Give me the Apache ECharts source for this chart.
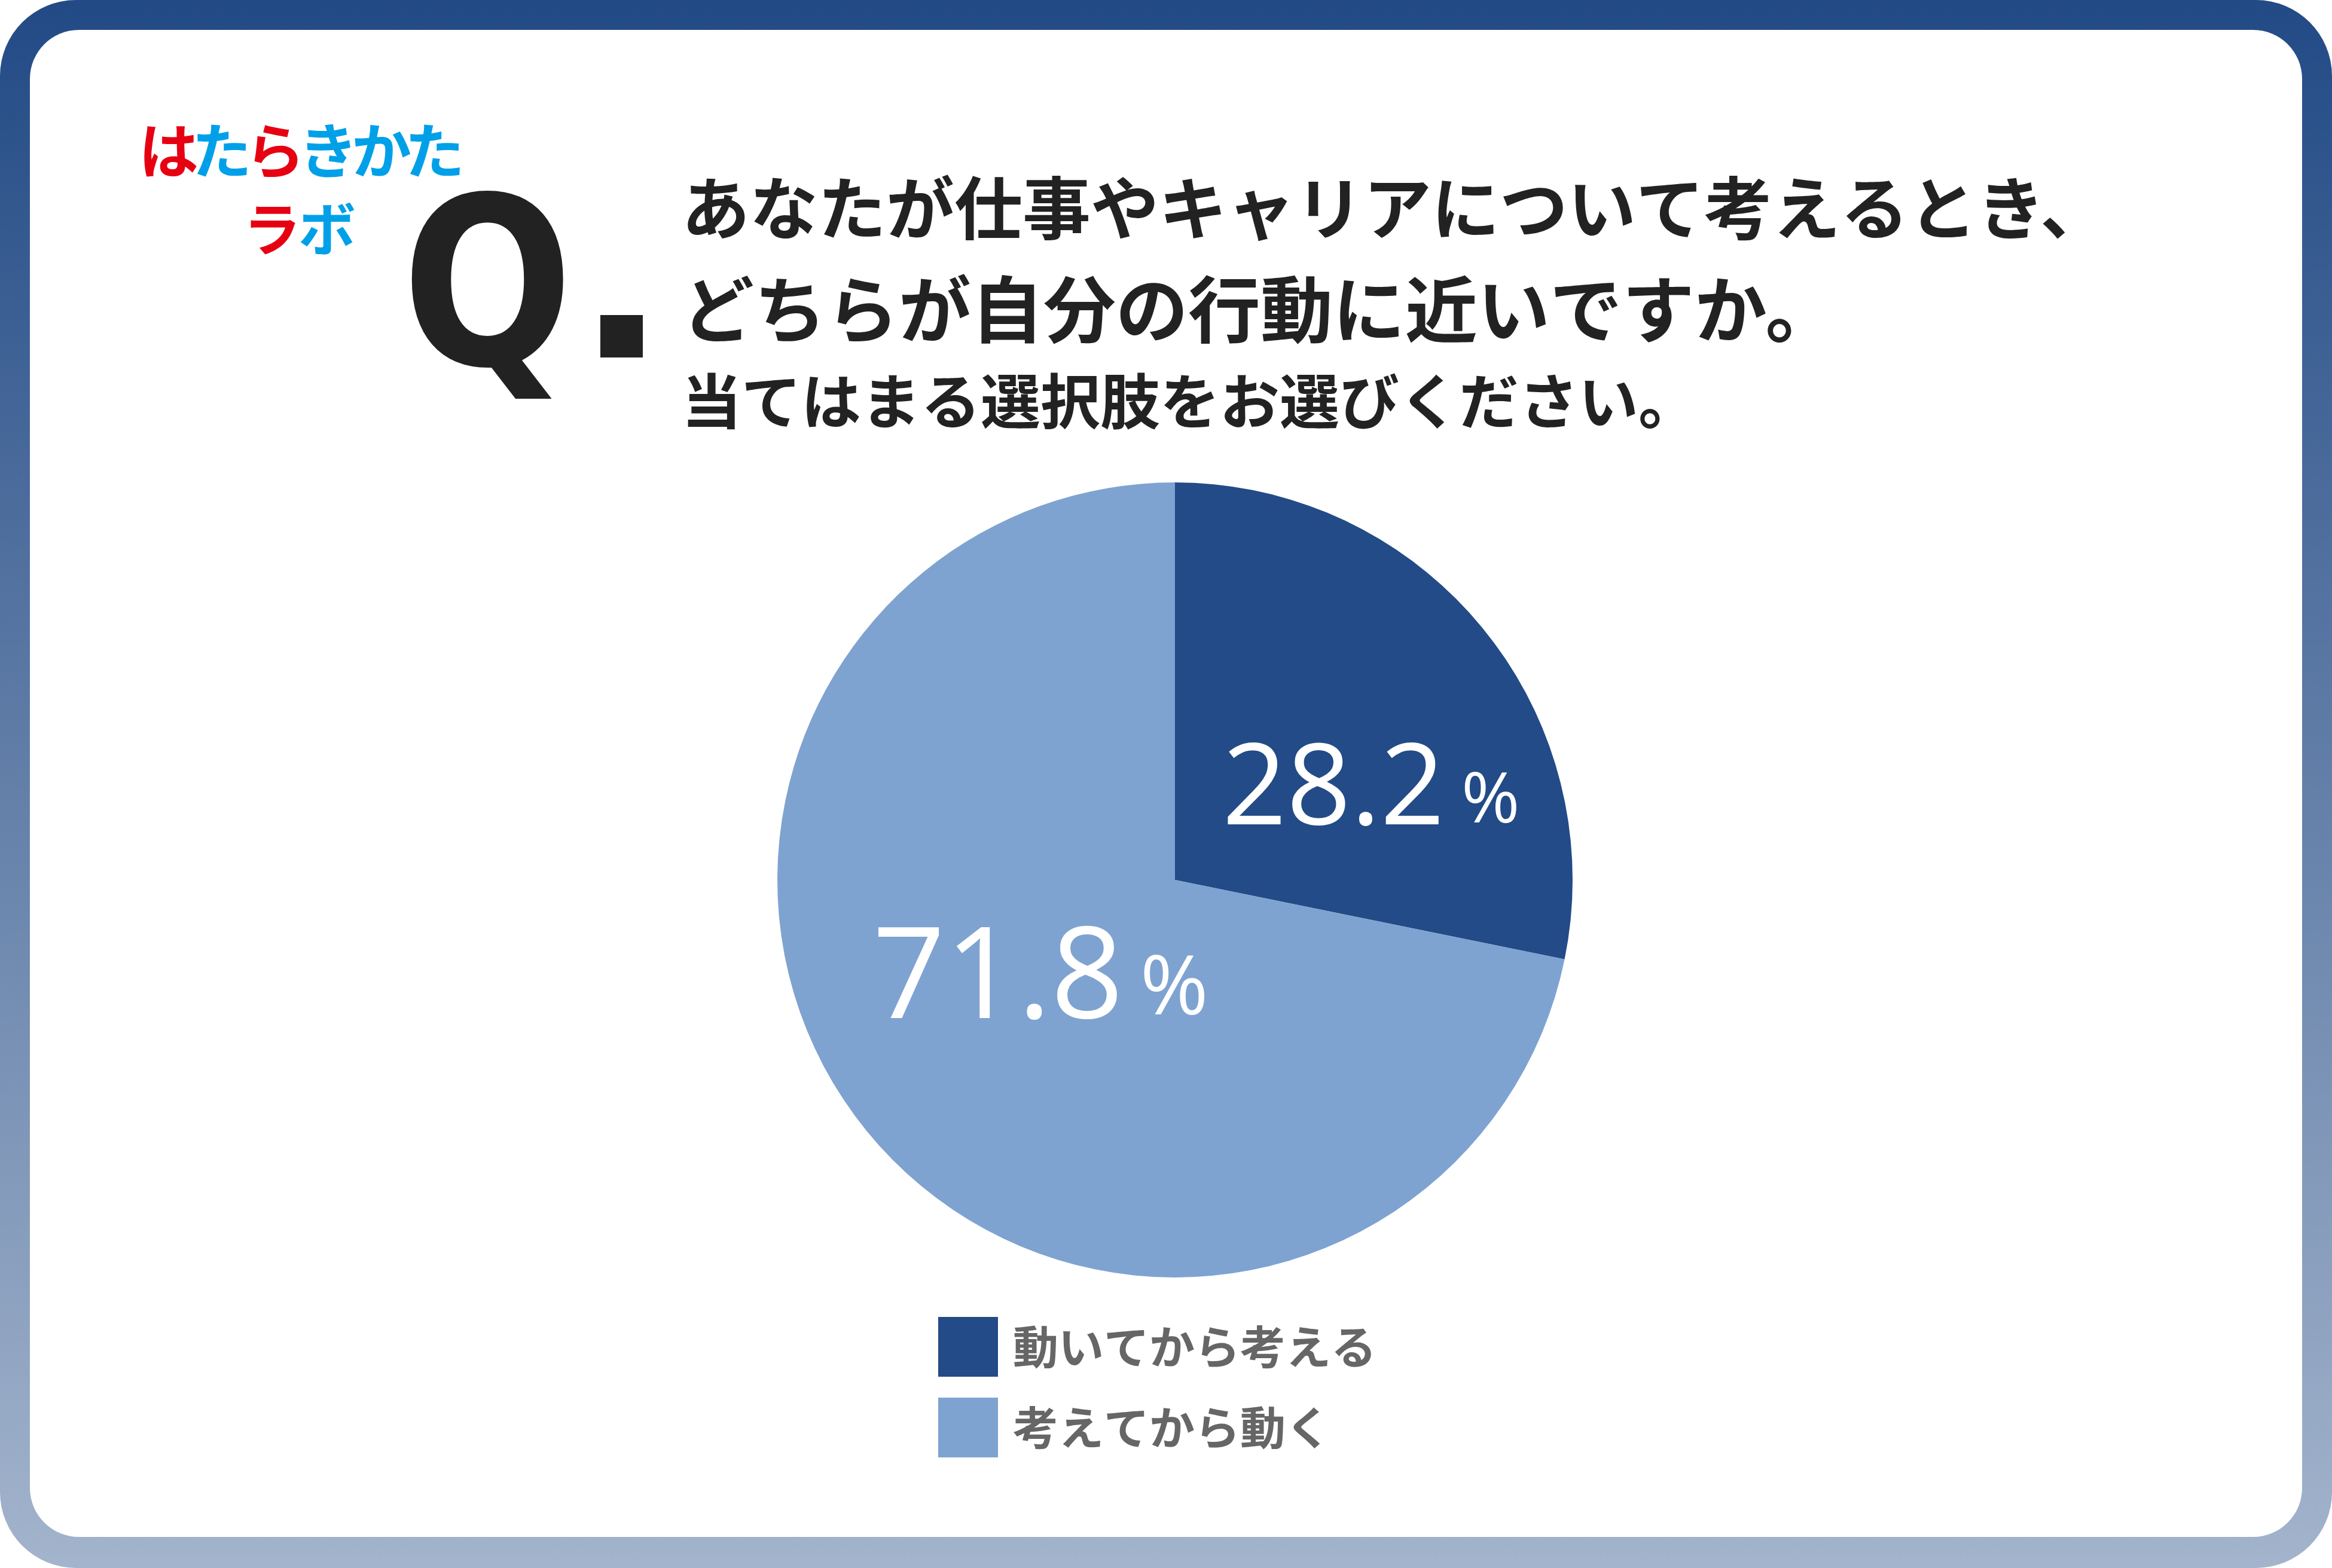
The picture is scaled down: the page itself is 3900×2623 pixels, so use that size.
<!DOCTYPE html>
<html><head><meta charset="utf-8">
<script src="https://cdn.jsdelivr.net/npm/echarts@6/dist/echarts.min.js"></script>
<style>html,body{margin:0;padding:0;background:#fff}#c{width:3900px;height:2623px}</style>
</head><body><div id="c"></div>
<script>
// ---- data ----
const categories = ['動いてから考える', '考えてから動く'];
const values = [28.2, 71.8];
const titleLines = ['あなたが仕事やキャリアについて考えるとき、', 'どちらが自分の行動に近いですか。', '当てはまる選択肢をお選びください。'];
const logoLine1 = ['は', 'た', 'ら', 'き', 'か', 'た'];
const logoLine2 = ['ラ', 'ボ'];

// ---- styles ----
const sliceColors = ['#224b87', '#7ea3d1'];
const numSizes = [188, 212];
const pctSizes = [118, 138];
const pctRaise = [18, 22];
const labelShift = [[68, 66], [35, -42]];
const logoColors1 = ['#e60012', '#00a0e9', '#e60012', '#00a0e9', '#00a0e9', '#00a0e9'];
const logoColors2 = ['#e60012', '#00a0e9'];
const JP = '"Noto Sans CJK JP", "Noto Sans", sans-serif';
const NUM = '"Open Sans", "Noto Sans", sans-serif';

const chart = echarts.init(document.getElementById('c'), null, {renderer: 'canvas'});

const graphics = [
  {type: 'rect', z: -20, shape: {x: 0, y: 0, width: 3900, height: 2623, r: 127},
   style: {fill: new echarts.graphic.LinearGradient(0, 0, 0, 1, [{offset: 0, color: '#224a85'}, {offset: 1, color: '#a3b4cc'}])}},
  {type: 'rect', z: -19, shape: {x: 50, y: 50, width: 3800, height: 2521, r: 82}, style: {fill: '#ffffff'}},
  {type: 'text', z: 10, x: 672, y: 704, scaleX: 0.86,
   style: {text: 'Q', font: 'bold 392px "DejaVu Sans"', fill: '#222222', textAlign: 'left', textVerticalAlign: 'bottom'}},
  {type: 'rect', z: 10, shape: {x: 1004, y: 527, width: 71, height: 71}, style: {fill: '#222222'}}
];
const titleY = [348, 517, 671];
const titleSize = [114, 121, 100];
titleLines.forEach((t, i) => graphics.push({type: 'text', z: 10,
  style: {text: t, x: 1140, y: titleY[i], font: 'bold ' + titleSize[i] + 'px ' + JP, fill: '#222222', textAlign: 'left', textVerticalAlign: 'middle'}}));
logoLine1.forEach((ch, i) => graphics.push({type: 'text', z: 10,
  style: {text: ch, x: 282 + i * 89, y: 252, font: 'bold 100px ' + JP, fill: logoColors1[i], textAlign: 'center', textVerticalAlign: 'middle'}}));
logoLine2.forEach((ch, i) => graphics.push({type: 'text', z: 10,
  style: {text: ch, x: 455 + i * 92, y: 383, font: 'bold 96px ' + JP, fill: logoColors2[i], textAlign: 'center', textVerticalAlign: 'middle'}}));

const option = {
  backgroundColor: '#ffffff',
  animation: false,
  graphic: graphics,
  legend: {
    orient: 'vertical', left: 1564, top: 2198,
    itemWidth: 100, itemHeight: 100, itemGap: 35,
    icon: 'rect', selectedMode: false,
    data: categories,
    textStyle: {fontSize: 76, color: '#666666', fontWeight: 'bold', fontFamily: JP, padding: [0, 0, 0, 20]}
  },
  series: [{
    type: 'pie',
    center: [1965, 1472],
    radius: [0, 665],
    startAngle: 90,
    clockwise: true,
    avoidLabelOverlap: false,
    emphasis: {disabled: true},
    labelLine: {show: false},
    itemStyle: {borderWidth: 0},
    labelLayout: function (p) { return {dx: labelShift[p.dataIndex][0], dy: labelShift[p.dataIndex][1]}; },
    data: categories.map((name, i) => ({
      name: name, value: values[i],
      itemStyle: {color: sliceColors[i]},
      label: {
        show: true, position: 'inside',
        formatter: '{n|{c}}{p|%}',
        rich: {
          n: {fontSize: numSizes[i], color: '#ffffff', fontFamily: NUM, fontWeight: 500, verticalAlign: 'bottom', lineHeight: numSizes[i]},
          p: {fontSize: pctSizes[i], color: '#ffffff', fontFamily: NUM, fontWeight: 500, verticalAlign: 'bottom', padding: [0, 0, pctRaise[i], 28], lineHeight: numSizes[i]}
        }
      }
    }))
  }]
};
chart.setOption(option);
</script>
</body></html>
